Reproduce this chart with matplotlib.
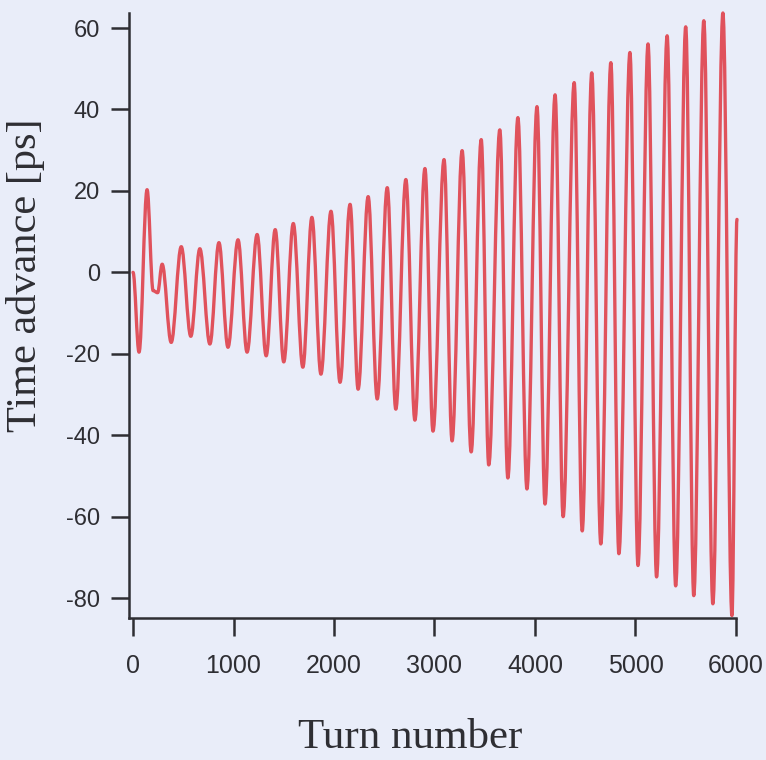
import matplotlib
matplotlib.use("Agg")
import matplotlib.pyplot as plt
from matplotlib.path import Path
from matplotlib.patches import PathPatch

# turning points of the time-advance trace
turn = [0, 60, 140, 200, 245, 290, 380, 480, 575, 665, 765, 855, 945, 1045,
        1135, 1235, 1325, 1415, 1500, 1595, 1690, 1780, 1870, 1970, 2060,
        2160, 2240, 2340, 2430, 2530, 2615, 2715, 2805, 2905, 2985, 3095,
        3175, 3275, 3365, 3465, 3540, 3650, 3730, 3830, 3920, 4020, 4100,
        4200, 4280, 4390, 4470, 4565, 4655, 4755, 4835, 4945, 5025, 5125,
        5210, 5315, 5400, 5500, 5580, 5680, 5770, 5870, 5960, 6010]
advance = [0, -19.6, 20.3, -4.5, -5.0, 2.0, -17.2, 6.3, -15.7, 5.8, -17.6,
           7.3, -18.4, 8.0, -19.6, 9.3, -20.5, 10.5, -22.0, 12.0, -23.3,
           13.5, -25.0, 15.0, -27.0, 16.7, -28.7, 18.6, -31.1, 20.8, -33.6,
           22.8, -36.3, 25.5, -39.0, 27.7, -41.4, 29.9, -44.1, 32.6, -47.3,
           35.0, -50.5, 38.0, -53.2, 40.7, -56.9, 43.6, -60.0, 46.6, -63.5,
           49.0, -66.7, 51.5, -69.1, 54.0, -72.0, 56.1, -74.8, 58.1, -77.0,
           60.3, -79.4, 61.8, -81.4, 63.7, -84.3, 13.0]

xticks = [0, 1000, 2000, 3000, 4000, 5000, 6000]
yticks = [-80, -60, -40, -20, 0, 20, 40, 60]

plt.rcParams['axes.unicode_minus'] = False
bg = '#e9edf9'
ink = '#2e2e33'

fig = plt.figure(figsize=(7.66, 7.60), dpi=100, facecolor=bg)
ax = fig.add_axes([0.1684, 0.1868, 0.7924, 0.7961], facecolor=bg)

# join the turning points with cubic curves that are flat at each extremum,
# so the trace looks like the smooth oscillation in the original
verts = [(turn[0], advance[0])]
codes = [Path.MOVETO]
for i in range(1, len(turn)):
    x0, y0 = turn[i - 1], advance[i - 1]
    x1, y1 = turn[i], advance[i]
    k = 0.36 * (x1 - x0)
    verts += [(x0 + k, y0), (x1 - k, y1), (x1, y1)]
    codes += [Path.CURVE4] * 3
trace = PathPatch(Path(verts, codes), facecolor='none', edgecolor='#e0525c',
                  lw=2.4, capstyle='round', joinstyle='round', clip_on=False)
ax.add_patch(trace)

ax.set_xlim(-40, 6000)
ax.set_ylim(-84.9, 63.7)
ax.set_xticks(xticks)
ax.set_yticks(yticks)

for side in ['top', 'right']:
    ax.spines[side].set_visible(False)
for side in ['left', 'bottom']:
    ax.spines[side].set_color(ink)
    ax.spines[side].set_linewidth(1.8)

ax.tick_params(axis='both', direction='out', length=13, width=1.8,
               color=ink, labelcolor=ink)
ax.tick_params(axis='x', pad=13)
ax.tick_params(axis='y', pad=8)
for lab in ax.get_xticklabels():
    lab.set_fontfamily('Liberation Sans')
    lab.set_fontsize(18)
for lab in ax.get_yticklabels():
    lab.set_fontfamily('Liberation Sans')
    lab.set_fontsize(17)

fig.text(410 / 766, 1 - 738 / 760, 'Turn number', family='Liberation Serif',
         fontsize=31, color=ink, ha='center', va='center')
fig.text(26 / 766, 1 - 275 / 760, 'Time advance [ps]', family='Liberation Serif',
         fontsize=30.5, color=ink, ha='center', va='center', rotation=90)

fig.savefig('out.png', dpi=100, facecolor=bg)
